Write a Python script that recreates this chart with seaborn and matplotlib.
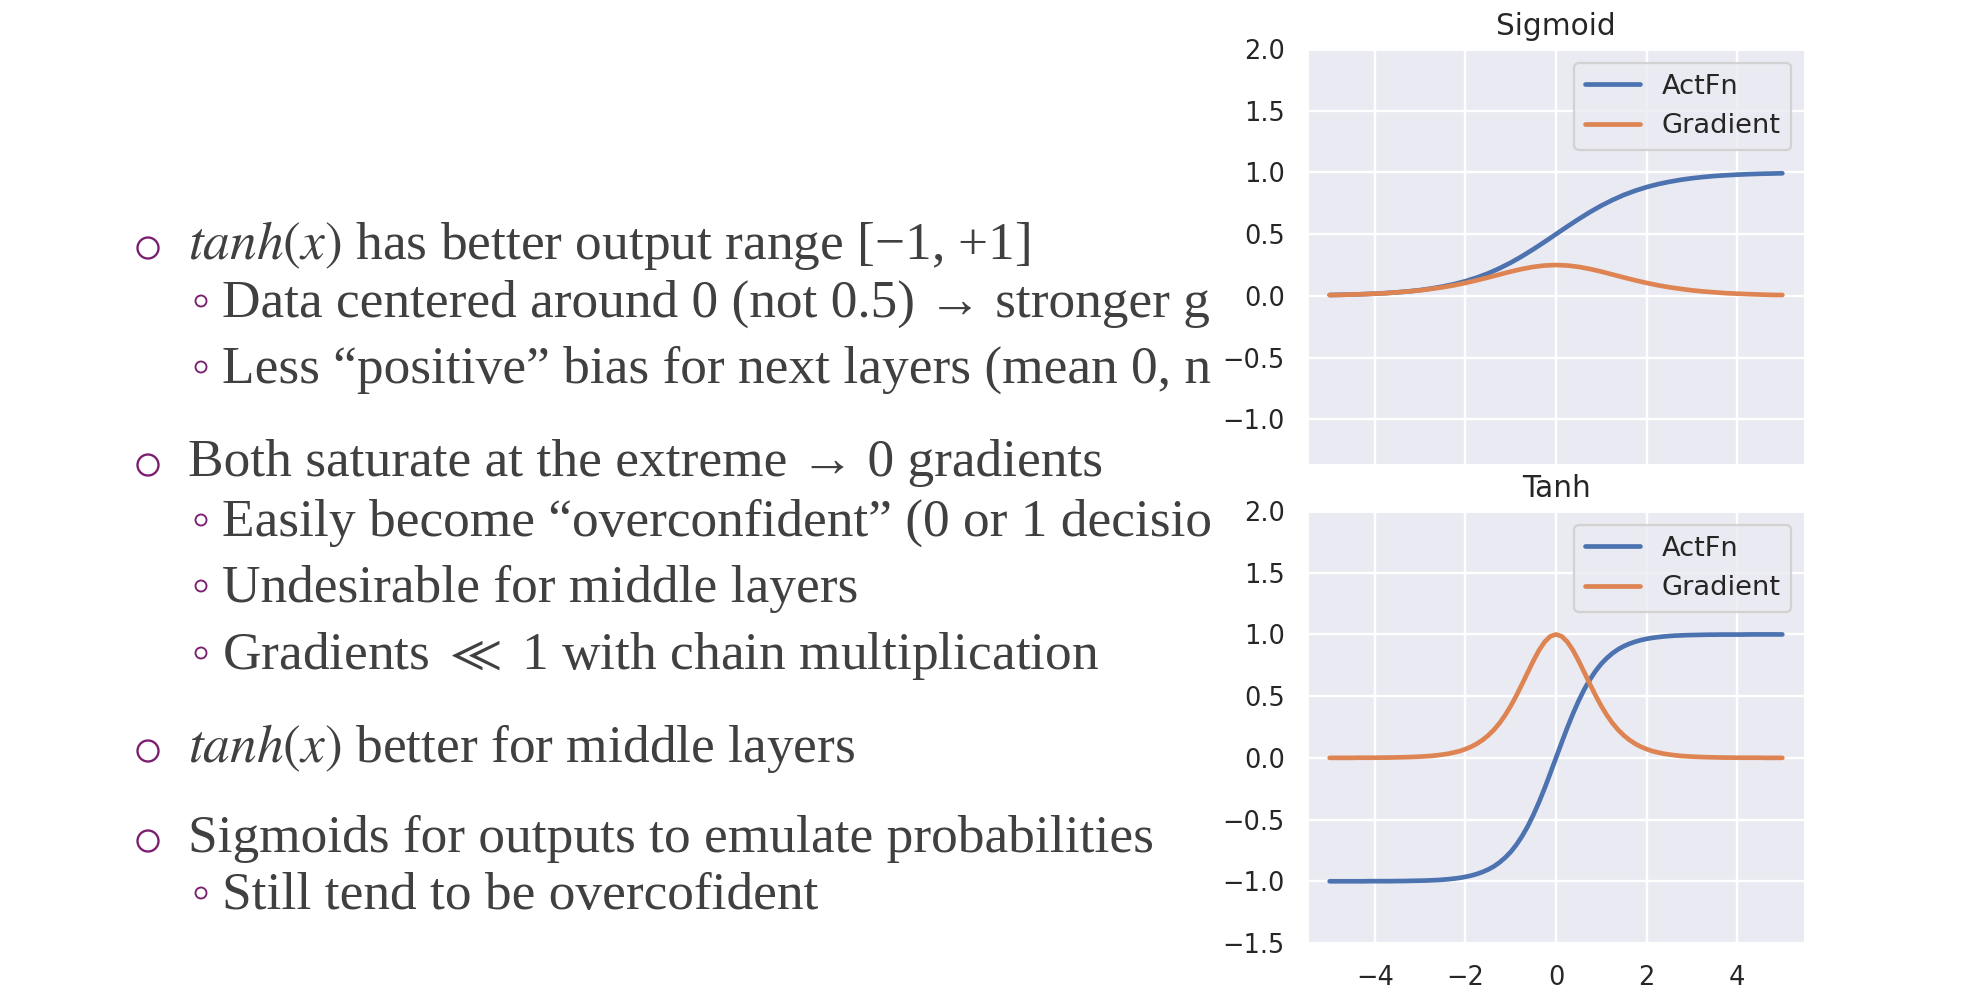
import numpy as np
import pandas as pd
import matplotlib.pyplot as plt
import seaborn as sns
from matplotlib.patches import Circle

sig_x = [-5.0, -4.75, -4.5, -4.25, -4.0, -3.75, -3.5, -3.25, -3.0, -2.75,
         -2.5, -2.25, -2.0, -1.75, -1.5, -1.25, -1.0, -0.75, -0.5, -0.25,
         0.0, 0.25, 0.5, 0.75, 1.0, 1.25, 1.5, 1.75, 2.0, 2.25,
         2.5, 2.75, 3.0, 3.25, 3.5, 3.75, 4.0, 4.25, 4.5, 4.75, 5.0]

sigmoid_act = [0.007, 0.009, 0.011, 0.014, 0.018, 0.023, 0.029, 0.037, 0.047, 0.060,
               0.076, 0.095, 0.119, 0.148, 0.182, 0.223, 0.269, 0.321, 0.378, 0.438,
               0.500, 0.562, 0.622, 0.679, 0.731, 0.777, 0.818, 0.852, 0.881, 0.905,
               0.924, 0.940, 0.953, 0.963, 0.971, 0.977, 0.982, 0.986, 0.989, 0.991, 0.993]

sigmoid_grad = [0.007, 0.008, 0.011, 0.014, 0.018, 0.022, 0.029, 0.036, 0.045, 0.057,
                0.070, 0.086, 0.105, 0.126, 0.149, 0.173, 0.197, 0.218, 0.235, 0.246,
                0.250, 0.246, 0.235, 0.218, 0.197, 0.173, 0.149, 0.126, 0.105, 0.086,
                0.070, 0.057, 0.045, 0.036, 0.029, 0.022, 0.018, 0.014, 0.011, 0.008, 0.007]

tanh_x = [-5.0, -4.875, -4.75, -4.625, -4.5, -4.375, -4.25, -4.125,
          -4.0, -3.875, -3.75, -3.625, -3.5, -3.375, -3.25, -3.125,
          -3.0, -2.875, -2.75, -2.625, -2.5, -2.375, -2.25, -2.125,
          -2.0, -1.875, -1.75, -1.625, -1.5, -1.375, -1.25, -1.125,
          -1.0, -0.875, -0.75, -0.625, -0.5, -0.375, -0.25, -0.125,
          0.0,
          0.125, 0.25, 0.375, 0.5, 0.625, 0.75, 0.875, 1.0,
          1.125, 1.25, 1.375, 1.5, 1.625, 1.75, 1.875, 2.0,
          2.125, 2.25, 2.375, 2.5, 2.625, 2.75, 2.875, 3.0,
          3.125, 3.25, 3.375, 3.5, 3.625, 3.75, 3.875, 4.0,
          4.125, 4.25, 4.375, 4.5, 4.625, 4.75, 4.875, 5.0]

tanh_act = [-1.000, -1.000, -1.000, -1.000, -1.000, -1.000, -1.000, -0.999,
            -0.999, -0.999, -0.999, -0.999, -0.998, -0.998, -0.997, -0.996,
            -0.995, -0.994, -0.992, -0.990, -0.987, -0.983, -0.978, -0.972,
            -0.964, -0.954, -0.941, -0.925, -0.905, -0.880, -0.848, -0.809,
            -0.762, -0.704, -0.635, -0.555, -0.462, -0.358, -0.245, -0.124,
            0.000,
            0.124, 0.245, 0.358, 0.462, 0.555, 0.635, 0.704, 0.762,
            0.809, 0.848, 0.880, 0.905, 0.925, 0.941, 0.954, 0.964,
            0.972, 0.978, 0.983, 0.987, 0.990, 0.992, 0.994, 0.995,
            0.996, 0.997, 0.998, 0.998, 0.999, 0.999, 0.999, 0.999,
            0.999, 1.000, 1.000, 1.000, 1.000, 1.000, 1.000, 1.000]

tanh_grad = [0.000, 0.000, 0.000, 0.000, 0.000, 0.001, 0.001, 0.001,
             0.001, 0.002, 0.002, 0.003, 0.004, 0.005, 0.006, 0.008,
             0.010, 0.013, 0.016, 0.021, 0.027, 0.034, 0.044, 0.055,
             0.071, 0.090, 0.114, 0.144, 0.181, 0.226, 0.280, 0.345,
             0.420, 0.505, 0.597, 0.692, 0.786, 0.872, 0.940, 0.985,
             1.000,
             0.985, 0.940, 0.872, 0.786, 0.692, 0.597, 0.505, 0.420,
             0.345, 0.280, 0.226, 0.181, 0.144, 0.114, 0.090, 0.071,
             0.055, 0.044, 0.034, 0.027, 0.021, 0.016, 0.013, 0.010,
             0.008, 0.006, 0.005, 0.004, 0.003, 0.002, 0.002, 0.001,
             0.001, 0.001, 0.001, 0.001, 0.000, 0.000, 0.000, 0.000]

# slide text as visible (the plot image covers the ends of some lines)
bullets = [
    (0, r"$tanh(x)$ has better output range [−1, +1]"),
    (1, "Data centered around 0 (not 0.5) → stronger g"),
    (1, "Less “positive” bias for next layers (mean 0, n"),
    (0, "Both saturate at the extreme → 0 gradients"),
    (1, "Easily become “overconfident” (0 or 1 decisio"),
    (1, "Undesirable for middle layers"),
    (1, r"Gradients $\ll$ 1 with chain multiplication"),
    (0, r"$tanh(x)$ better for middle layers"),
    (0, "Sigmoids for outputs to emulate probabilities"),
    (1, "Still tend to be overcofident"),
]
baselines = [259, 317, 383, 476, 536, 602, 669, 762, 852, 909]

sns.set_theme(style="darkgrid", context="notebook")
plt.rcParams['mathtext.fontset'] = 'stix'

DPI = 168
W, H = 1968, 999
fig = plt.figure(figsize=(W / DPI, H / DPI), dpi=DPI)

purple = '#7a1f70'
txt_col = '#404040'
serif = ['Liberation Serif', 'DejaVu Serif', 'DejaVu Sans']

# text column, clipped where the plot image starts
CLIP = 1213
tx = fig.add_axes([0, 0, CLIP / W, 1])
tx.set_xlim(0, CLIP)
tx.set_ylim(H, 0)
tx.axis('off')
for (level, text), base in zip(bullets, baselines):
    if level == 0:
        tx.add_patch(Circle((148, base - 11), 10.5, fill=False, ec=purple, lw=1.0))
        xt = 188
    else:
        tx.add_patch(Circle((201, base - 16), 5.5, fill=False, ec=purple, lw=0.8))
        xt = 222
    t = tx.text(xt, base, text, fontsize=22.9, color=txt_col, va='baseline',
                family=serif)
    t.set_clip_box(tx.bbox)
    t.set_clip_on(True)

# the two activation plots
ax1 = fig.add_axes([1307 / W, 1 - 465 / H, 498 / W, 416 / H])
ax2 = fig.add_axes([1307 / W, 1 - 943 / H, 498 / W, 432 / H])

panels = [(ax1, 'Sigmoid', sig_x, sigmoid_act, sigmoid_grad),
          (ax2, 'Tanh', tanh_x, tanh_act, tanh_grad)]
for ax, title, xs, act, grad in panels:
    sns.lineplot(x=xs, y=act, ax=ax, label='ActFn', linewidth=2.0)
    sns.lineplot(x=xs, y=grad, ax=ax, label='Gradient', linewidth=2.0)
    ax.set_title(title, fontsize=12.7)
    ax.set_xlim(-5.5, 5.5)
    ax.legend(loc='upper right', fontsize=11.7)

ax1.set_ylim(-1.37, 2.0)
ax1.set_yticks([-1.0, -0.5, 0.0, 0.5, 1.0, 1.5, 2.0])
ax1.tick_params(labelbottom=False)
ax2.set_ylim(-1.5, 2.0)

fig.savefig('out.png', dpi=DPI)
